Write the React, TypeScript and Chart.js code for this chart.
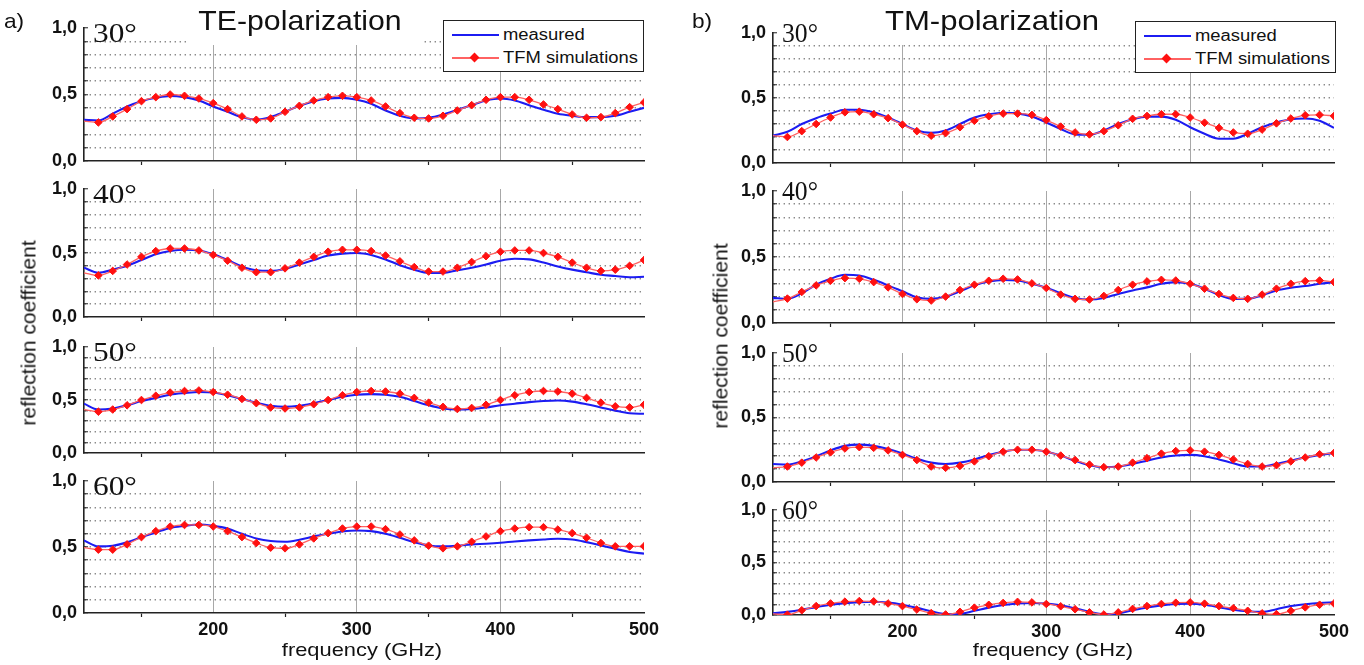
import React, { useEffect, useRef } from 'react';
import { Chart, registerables } from 'chart.js';

Chart.register(...registerables);

const SANS = '"Liberation Sans", Arial, sans-serif';
const SERIF = '"Liberation Serif", "Times New Roman", serif';
Chart.defaults.font.family = SANS;

// ---------------- data ----------------
const FREQ_GHZ = [110, 120, 130, 140, 150, 160, 170, 180, 190, 200, 210, 220, 230, 240, 250, 260, 270, 280, 290, 300,
  310, 320, 330, 340, 350, 360, 370, 380, 390, 400, 410, 420, 430, 440, 450, 460, 470, 480, 490, 500];

const TE30_MEASURED = [0.31, 0.305, 0.355, 0.41, 0.45, 0.475, 0.49, 0.48, 0.455, 0.41, 0.37, 0.33, 0.31, 0.33, 0.37, 0.415, 0.45, 0.47, 0.475, 0.46,
  0.43, 0.38, 0.34, 0.32, 0.325, 0.35, 0.385, 0.42, 0.455, 0.47, 0.455, 0.42, 0.385, 0.355, 0.34, 0.33, 0.33, 0.34, 0.37, 0.40];
const TE30_TFM = [0.30, 0.29, 0.335, 0.39, 0.45, 0.48, 0.50, 0.49, 0.47, 0.435, 0.39, 0.335, 0.31, 0.32, 0.37, 0.415, 0.455, 0.48, 0.49, 0.48,
  0.455, 0.41, 0.36, 0.325, 0.32, 0.34, 0.38, 0.42, 0.46, 0.48, 0.48, 0.46, 0.425, 0.39, 0.35, 0.325, 0.33, 0.36, 0.405, 0.44];

const TE40_MEASURED = [0.385, 0.345, 0.37, 0.40, 0.445, 0.49, 0.515, 0.525, 0.52, 0.49, 0.445, 0.395, 0.365, 0.36, 0.375, 0.41, 0.445, 0.48, 0.495, 0.50,
  0.485, 0.45, 0.405, 0.37, 0.345, 0.345, 0.365, 0.385, 0.41, 0.44, 0.455, 0.45, 0.425, 0.395, 0.37, 0.35, 0.33, 0.32, 0.31, 0.315];
const TE40_TFM = [0.345, 0.325, 0.36, 0.41, 0.47, 0.515, 0.535, 0.535, 0.52, 0.485, 0.44, 0.385, 0.35, 0.35, 0.38, 0.425, 0.47, 0.51, 0.525, 0.525,
  0.515, 0.48, 0.435, 0.39, 0.355, 0.355, 0.385, 0.43, 0.475, 0.51, 0.52, 0.52, 0.50, 0.47, 0.425, 0.385, 0.36, 0.37, 0.40, 0.445];

const TE50_MEASURED = [0.465, 0.41, 0.42, 0.45, 0.49, 0.52, 0.55, 0.565, 0.575, 0.57, 0.545, 0.51, 0.475, 0.445, 0.435, 0.445, 0.47, 0.50, 0.53, 0.55,
  0.555, 0.55, 0.53, 0.49, 0.45, 0.42, 0.41, 0.415, 0.43, 0.45, 0.465, 0.48, 0.49, 0.495, 0.485, 0.46, 0.43, 0.40, 0.375, 0.37];
const TE50_TFM = [0.41, 0.39, 0.41, 0.45, 0.50, 0.54, 0.57, 0.585, 0.59, 0.575, 0.55, 0.51, 0.47, 0.43, 0.42, 0.43, 0.46, 0.50, 0.545, 0.575,
  0.585, 0.58, 0.56, 0.52, 0.475, 0.435, 0.415, 0.425, 0.455, 0.50, 0.545, 0.575, 0.585, 0.58, 0.56, 0.52, 0.475, 0.44, 0.43, 0.455];

const TE60_MEASURED = [0.55, 0.505, 0.51, 0.535, 0.575, 0.61, 0.645, 0.66, 0.67, 0.66, 0.64, 0.60, 0.565, 0.545, 0.54, 0.555, 0.58, 0.60, 0.617, 0.625,
  0.62, 0.60, 0.57, 0.537, 0.512, 0.505, 0.51, 0.52, 0.525, 0.532, 0.542, 0.55, 0.557, 0.562, 0.557, 0.537, 0.512, 0.487, 0.462, 0.45];
const TE60_TFM = [0.495, 0.48, 0.48, 0.52, 0.575, 0.62, 0.655, 0.667, 0.667, 0.655, 0.62, 0.575, 0.53, 0.495, 0.49, 0.52, 0.565, 0.605, 0.64, 0.655,
  0.655, 0.635, 0.595, 0.55, 0.51, 0.49, 0.505, 0.54, 0.58, 0.62, 0.64, 0.65, 0.65, 0.632, 0.605, 0.57, 0.53, 0.505, 0.505, 0.505];

const TM30_MEASURED = [0.21, 0.24, 0.30, 0.345, 0.38, 0.41, 0.41, 0.39, 0.35, 0.30, 0.25, 0.232, 0.25, 0.30, 0.35, 0.375, 0.387, 0.382, 0.357, 0.312,
  0.262, 0.22, 0.217, 0.25, 0.30, 0.337, 0.357, 0.357, 0.332, 0.275, 0.225, 0.187, 0.187, 0.225, 0.275, 0.312, 0.337, 0.342, 0.325, 0.27];
const TM30_TFM = [0.21, 0.20, 0.245, 0.30, 0.35, 0.39, 0.395, 0.375, 0.345, 0.295, 0.245, 0.21, 0.23, 0.275, 0.325, 0.36, 0.38, 0.38, 0.37, 0.33,
  0.28, 0.235, 0.22, 0.245, 0.29, 0.34, 0.362, 0.375, 0.375, 0.35, 0.31, 0.27, 0.235, 0.225, 0.257, 0.305, 0.342, 0.367, 0.37, 0.362];

const TM40_MEASURED = [0.19, 0.183, 0.225, 0.29, 0.335, 0.365, 0.36, 0.327, 0.285, 0.24, 0.195, 0.183, 0.20, 0.24, 0.285, 0.315, 0.327, 0.322, 0.297, 0.267,
  0.226, 0.19, 0.178, 0.19, 0.22, 0.246, 0.27, 0.297, 0.31, 0.297, 0.26, 0.213, 0.183, 0.183, 0.21, 0.246, 0.267, 0.28, 0.297, 0.31];
const TM40_TFM = [0.16, 0.185, 0.235, 0.285, 0.32, 0.34, 0.335, 0.31, 0.27, 0.22, 0.18, 0.17, 0.20, 0.25, 0.29, 0.32, 0.335, 0.33, 0.30, 0.265,
  0.215, 0.183, 0.178, 0.205, 0.25, 0.29, 0.315, 0.327, 0.322, 0.297, 0.26, 0.22, 0.19, 0.183, 0.215, 0.26, 0.297, 0.317, 0.322, 0.31];

const TM50_MEASURED = [0.14, 0.135, 0.16, 0.20, 0.245, 0.28, 0.29, 0.28, 0.255, 0.22, 0.18, 0.15, 0.14, 0.15, 0.175, 0.21, 0.235, 0.25, 0.25, 0.235,
  0.205, 0.165, 0.13, 0.115, 0.12, 0.14, 0.165, 0.19, 0.205, 0.21, 0.20, 0.175, 0.145, 0.12, 0.12, 0.14, 0.165, 0.19, 0.21, 0.225];
const TM50_TFM = [0.11, 0.12, 0.15, 0.19, 0.23, 0.26, 0.27, 0.265, 0.245, 0.21, 0.17, 0.12, 0.11, 0.125, 0.16, 0.20, 0.235, 0.25, 0.25, 0.235,
  0.205, 0.17, 0.135, 0.115, 0.12, 0.15, 0.185, 0.22, 0.24, 0.245, 0.235, 0.21, 0.175, 0.14, 0.12, 0.13, 0.16, 0.19, 0.215, 0.225];

const TM60_MEASURED = [0.016, 0.03, 0.05, 0.075, 0.097, 0.113, 0.122, 0.126, 0.118, 0.098, 0.068, 0.035, 0.01, 0.012, 0.04, 0.07, 0.095, 0.11, 0.115, 0.11,
  0.092, 0.063, 0.03, 0.008, 0.015, 0.045, 0.072, 0.092, 0.105, 0.108, 0.098, 0.075, 0.05, 0.035, 0.03, 0.055, 0.085, 0.103, 0.115, 0.12];
const TM60_TFM = [0.01, 0.003, 0.045, 0.085, 0.11, 0.127, 0.133, 0.13, 0.11, 0.085, 0.052, 0.018, 0.005, 0.03, 0.07, 0.097, 0.115, 0.125, 0.12, 0.105,
  0.083, 0.055, 0.025, 0.005, 0.025, 0.058, 0.085, 0.105, 0.117, 0.12, 0.108, 0.085, 0.065, 0.04, 0.016, 0.008, 0.04, 0.073, 0.098, 0.11];

const ANGLE_LABELS = ['30°', '40°', '50°', '60°'];
const SERIES_NAMES = ['measured', 'TFM simulations'];
const PANEL_TITLES = ['TE-polarization', 'TM-polarization'];
const PANEL_LETTERS = ['a)', 'b)'];
const X_AXIS_TITLE = 'frequency (GHz)';
const Y_AXIS_TITLE = 'reflection coefficient';
const X_TICK_VALUES = [150, 200, 250, 300, 350, 400, 450, 500];
const X_TICK_LABELS = [200, 300, 400, 500];
const X_GRID_VALUES = [200, 300, 400];
const Y_TICK_VALUES = [0, 0.1, 0.2, 0.3, 0.4, 0.5, 0.6, 0.7, 0.8, 0.9, 1.0];
const Y_TICK_LABELS = [0, 0.5, 1.0];
const X_MIN = 110;
const X_MAX = 500;

const TE_MEASURED = [TE30_MEASURED, TE40_MEASURED, TE50_MEASURED, TE60_MEASURED];
const TE_TFM = [TE30_TFM, TE40_TFM, TE50_TFM, TE60_TFM];
const TM_MEASURED = [TM30_MEASURED, TM40_MEASURED, TM50_MEASURED, TM60_MEASURED];
const TM_TFM = [TM30_TFM, TM40_TFM, TM50_TFM, TM60_TFM];

// ---------------- layout & style ----------------
const BLUE = '#1c1cf2';
const RED = '#ff1010';
const RED_LINE = '#ff6262';
const STRETCH = 1.15; // the source figure's text is slightly wide

const PANELS = [
  {
    x0: 84, x1: 644,
    rows: [[28, 161], [189, 317], [347, 453], [481, 613]],
    measured: TE_MEASURED, tfm: TE_TFM,
    letterX: 4, titleBox: [186, 421], titleCx: 300, titleStretch: 1.08, legendX: 443, legendW: 201, legendY: 20,
    yTitleX: 28, yTitleY: 333, xTitleX: 362, angleFont: 28, angleBase: 14, angleStretch: 1.12,
  },
  {
    x0: 773, x1: 1334,
    rows: [[33, 163], [191, 323], [353, 482], [510, 615]],
    measured: TM_MEASURED, tfm: TM_TFM,
    letterX: 692, titleBox: [875, 1119], titleCx: 992, titleStretch: 1.11, legendX: 1135, legendW: 201, legendY: 21,
    yTitleX: 720, yTitleY: 336, xTitleX: 1053, angleFont: 26.5, angleBase: 9, angleStretch: 0.97,
  },
];

type Box = { x0: number; x1: number; y0: number; y1: number };

function SubChart({ box, measured, tfm, showX }: { box: Box; measured: number[]; tfm: number[]; showX: boolean }) {
  const ref = useRef<HTMLCanvasElement>(null);
  const ML = 80, MT = 26, MR = 26;
  const MB = showX ? 38 : 26;
  const w = box.x1 - box.x0 + ML + MR;
  const h = box.y1 - box.y0 + MT + MB;

  useEffect(() => {
    const isIn = (arr: number[], v: number) => arr.some((a) => Math.abs(a - v) < 1e-6);
    const chart = new Chart(ref.current as HTMLCanvasElement, {
      type: 'line',
      data: {
        datasets: [
          {
            label: SERIES_NAMES[1],
            data: FREQ_GHZ.map((f, i) => ({ x: f, y: tfm[i] })),
            borderColor: RED_LINE,
            borderWidth: 1.3,
            pointStyle: 'rectRot',
            pointRadius: (c: any) => (c.dataIndex === 0 ? 0 : 3.8),
            pointBackgroundColor: RED,
            pointBorderColor: RED,
            pointBorderWidth: 1,
            cubicInterpolationMode: 'monotone',
          },
          {
            label: SERIES_NAMES[0],
            data: FREQ_GHZ.map((f, i) => ({ x: f, y: measured[i] })),
            borderColor: BLUE,
            borderWidth: 2.1,
            pointRadius: 0,
            cubicInterpolationMode: 'monotone',
          },
        ],
      } as any,
      options: {
        responsive: false,
        animation: false,
        devicePixelRatio: 1,
        events: [],
        layout: { padding: { left: 0, top: MT, right: MR, bottom: 0 } },
        plugins: { legend: { display: false }, tooltip: { enabled: false }, title: { display: false } },
        scales: {
          x: {
            type: 'linear',
            min: X_MIN,
            max: X_MAX,
            afterBuildTicks: (s: any) => { s.ticks = X_TICK_VALUES.map((v) => ({ value: v })); },
            afterFit: (s: any) => { s.height = MB; },
            grid: {
              color: (c: any) => (c.tick && isIn(X_GRID_VALUES, c.tick.value) ? '#a8a8a8' : 'rgba(0,0,0,0)'),
              lineWidth: 1,
              drawTicks: true,
              tickLength: 4,
              tickWidth: 1.2,
              tickColor: (c: any) => (c.tick && !isIn(X_GRID_VALUES, c.tick.value) && c.tick.value !== X_MAX ? '#222' : 'rgba(0,0,0,0)'),
            },
            border: { display: true, color: '#222', width: 1.6 },
            ticks: {
              display: showX,
              autoSkip: false,
              maxRotation: 0,
              padding: 2,
              color: '#111',
              font: { family: SANS, size: 18, weight: 'bold' },
              callback: (v: any) => (isIn(X_TICK_LABELS, Number(v)) ? String(v) : ''),
            },
          },
          y: {
            type: 'linear',
            min: 0,
            max: 1,
            afterBuildTicks: (s: any) => { s.ticks = Y_TICK_VALUES.map((v) => ({ value: v })); },
            afterFit: (s: any) => { s.width = ML; },
            grid: {
              color: (c: any) => (c.tick && c.tick.value > 0.01 && c.tick.value < 0.99 ? '#8a8a8a' : 'rgba(0,0,0,0)'),
              lineWidth: 1.5,
              drawTicks: true,
              tickLength: -4,
              tickWidth: 1.1,
              tickColor: '#333',
            },
            border: { display: true, color: '#222', width: 1.6, dash: [1.4, 3.6] },
            ticks: {
              autoSkip: false,
              padding: 11,
              color: '#111',
              font: { family: SANS, size: 18, weight: 'bold' },
              callback: (v: any) => (isIn(Y_TICK_LABELS, Number(v)) ? Number(v).toFixed(1).replace('.', ',') : ''),
            },
          },
        },
      } as any,
    });
    return () => chart.destroy();
  }, []);

  return (
    <canvas
      ref={ref}
      width={w}
      height={h}
      style={{ position: 'absolute', left: box.x0 - ML, top: box.y0 - MT, width: w, height: h }}
    />
  );
}

const textStyle = (size: number, family: string, stretch: number): React.CSSProperties => ({
  position: 'absolute',
  font: `${size}px ${family}`,
  lineHeight: 1,
  whiteSpace: 'nowrap',
  color: '#111',
  zIndex: 3,
  transformOrigin: 'left top',
  transform: `scaleX(${stretch})`,
});

function Legend({ x, y, w }: { x: number; y: number; w: number }) {
  const h = 52;
  return (
    <div style={{ position: 'absolute', left: x, top: y, width: w, height: h, border: '1.3px solid #222', background: '#fff', boxSizing: 'border-box', zIndex: 3 }}>
      <div style={{ position: 'absolute', left: 8, top: 13, width: 47, height: 2, background: BLUE }} />
      <div style={{ ...textStyle(16, SANS, STRETCH), left: 59, top: 6 }}>{SERIES_NAMES[0]}</div>
      <div style={{ position: 'absolute', left: 8, top: 36, width: 47, height: 1.5, background: RED_LINE }} />
      <div style={{ position: 'absolute', left: 27, top: 32.5, width: 7, height: 7, background: RED, transform: 'rotate(45deg)' }} />
      <div style={{ ...textStyle(16, SANS, STRETCH), left: 59, top: 29 }}>{SERIES_NAMES[1]}</div>
    </div>
  );
}

export default function App() {
  return (
    <div style={{ position: 'absolute', left: 0, top: 0, width: 1364, height: 665, background: '#fff', overflow: 'hidden' }}>
      {PANELS.map((p, pi) =>
        p.rows.map((r, ri) => (
          <SubChart
            key={`c${pi}${ri}`}
            box={{ x0: p.x0, x1: p.x1, y0: r[0], y1: r[1] }}
            measured={p.measured[ri]}
            tfm={p.tfm[ri]}
            showX={ri === p.rows.length - 1}
          />
        ))
      )}
      {PANELS.map((p, pi) => (
        <React.Fragment key={`o${pi}`}>
          <div style={{ ...textStyle(21, SANS, 1.08), left: p.letterX, top: 10 }}>{PANEL_LETTERS[pi]}</div>
          <div style={{ position: 'absolute', left: p.titleBox[0], top: 0, width: p.titleBox[1] - p.titleBox[0], height: 45, background: '#fff', zIndex: 2 }} />
          <div style={{ ...textStyle(28, SANS, 1), left: p.titleCx, top: 6.5, transformOrigin: 'center top', transform: `translateX(-50%) scaleX(${p.titleStretch})` }}>{PANEL_TITLES[pi]}</div>
          <Legend x={p.legendX} y={p.legendY} w={p.legendW} />
          {p.rows.map((r, ri) => (
            <div key={`a${ri}`} style={{ ...textStyle(p.angleFont, SERIF, p.angleStretch), left: p.x0 + 9, top: r[0] + p.angleBase - 0.8375 * p.angleFont }}>{ANGLE_LABELS[ri]}</div>
          ))}
          <div style={{ ...textStyle(21, SANS, 1), left: p.yTitleX, top: p.yTitleY, transformOrigin: 'center center', transform: 'translate(-50%, -50%) rotate(-90deg)' }}>{Y_AXIS_TITLE}</div>
          <div style={{ ...textStyle(19, SANS, 1), left: p.xTitleX, top: 640, transformOrigin: 'center top', transform: `translateX(-50%) scaleX(${STRETCH})` }}>{X_AXIS_TITLE}</div>
        </React.Fragment>
      ))}
    </div>
  );
}
